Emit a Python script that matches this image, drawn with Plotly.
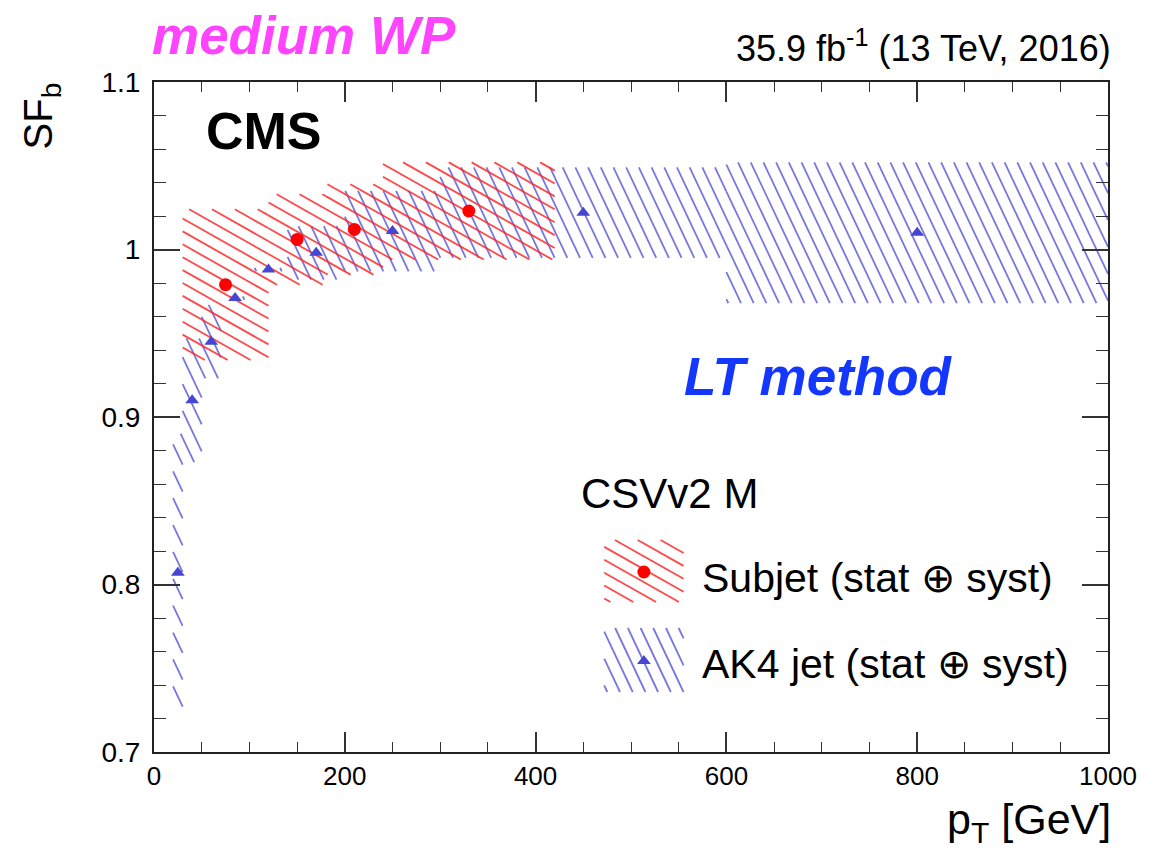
import math
import plotly.graph_objects as go

# ---------------- data ----------------
# Subjet (red), bins in pT [GeV]
sub_lo = [30, 120, 180, 240]
sub_hi = [120, 180, 240, 420]
sub_pt = [75, 150, 210, 330]
sub_sf = [0.979, 1.006, 1.012, 1.023]
sub_err = [0.045, 0.027, 0.027, 0.029]

# AK4 jet (blue)
ak4_lo = [20, 30, 50, 70, 100, 140, 200, 300, 600]
ak4_hi = [30, 50, 70, 100, 140, 200, 300, 600, 1000]
ak4_pt = [25, 40, 60, 85, 120, 170, 250, 450, 800]
ak4_sf = [0.807, 0.910, 0.945, 0.971, 0.988, 0.998, 1.011, 1.022, 1.010]
ak4_err = [0.083, 0.037, 0.022, 0.001, 0.001, 0.016, 0.024, 0.027, 0.042]

x_ticks = [0, 200, 400, 600, 800, 1000]
y_ticks = [0.7, 0.8, 0.9, 1.0, 1.1]
y_ticktext = ["0.7", "0.8", "0.9", "1", "1.1"]

# ---------------- layout geometry ----------------
W, H = 1149, 857
ML, MR, MT, MB = 154, 33, 82, 105
PW, PH = W - ML - MR, H - MT - MB
XR = (0, 1000)
YR = (0.7, 1.1)

RED_LINE = "rgba(255,40,40,0.85)"
BLUE_LINE = "rgba(85,85,215,0.8)"
RED_MK = "#ff0000"
BLUE_MK = "#4646d2"


def xpx(x):
    return ML + (x - XR[0]) / (XR[1] - XR[0]) * PW


def ypx(y):
    return MT + (YR[1] - y) / (YR[1] - YR[0]) * PH


def xdat(px):
    return XR[0] + (px - ML) / PW * (XR[1] - XR[0])


def ydat(py):
    return YR[1] - (py - MT) / PH * (YR[1] - YR[0])


def hatch_red_px(px1, px2, pyt, pyb, xs, ys, m=0.56, sp=12.9):
    cmin = pyt - m * px2
    cmax = pyb - m * px1
    for k in range(math.ceil(cmin / sp), math.floor(cmax / sp) + 1):
        c = k * sp
        xa = max(px1, (pyt - c) / m)
        xb = min(px2, (pyb - c) / m)
        if xb > xa:
            xs += [xdat(xa), xdat(xb), None]
            ys += [ydat(c + m * xa), ydat(c + m * xb), None]


def hatch_blue_px(px1, px2, pyt, pyb, xs, ys, s=2.1, sp=12.8):
    cmin = px1 - pyb / s
    cmax = px2 - pyt / s
    for k in range(math.ceil(cmin / sp), math.floor(cmax / sp) + 1):
        c = k * sp
        ya = max(pyt, (px1 - c) * s)
        yb = min(pyb, (px2 - c) * s)
        if yb > ya:
            xs += [xdat(c + ya / s), xdat(c + yb / s), None]
            ys += [ydat(ya), ydat(yb), None]


fig = go.Figure()

# blue hatch boxes
bx, by = [], []
for lo, hi, v, e in zip(ak4_lo, ak4_hi, ak4_sf, ak4_err):
    hatch_blue_px(xpx(lo), xpx(hi), ypx(v + e), ypx(v - e), bx, by)
# red hatch boxes
rx, ry = [], []
for lo, hi, v, e in zip(sub_lo, sub_hi, sub_sf, sub_err):
    hatch_red_px(xpx(lo), xpx(hi), ypx(v + e), ypx(v - e), rx, ry)

# legend hatch boxes (layout positions in pixels)
LEG_X1, LEG_X2 = 608, 688
LEG_R = (540, 602)
LEG_B = (628, 692)
lrx, lry, lbx, lby = [], [], [], []
hatch_red_px(LEG_X1, LEG_X2, LEG_R[0], LEG_R[1], lrx, lry)
hatch_blue_px(LEG_X1, LEG_X2, LEG_B[0], LEG_B[1], lbx, lby)

fig.add_trace(go.Scatter(x=bx + [None] + lbx, y=by + [None] + lby, mode="lines",
                         line=dict(color=BLUE_LINE, width=1.8), hoverinfo="skip",
                         showlegend=False))
fig.add_trace(go.Scatter(x=rx + [None] + lrx, y=ry + [None] + lry, mode="lines",
                         line=dict(color=RED_LINE, width=1.8), hoverinfo="skip",
                         showlegend=False))

# markers
fig.add_trace(go.Scatter(x=ak4_pt, y=ak4_sf, mode="markers",
                         marker=dict(symbol="triangle-up", size=12, color=BLUE_MK),
                         showlegend=False))
fig.add_trace(go.Scatter(x=sub_pt, y=sub_sf, mode="markers",
                         marker=dict(symbol="circle", size=13, color=RED_MK),
                         showlegend=False))
# legend markers
lmx = (LEG_X1 + LEG_X2) / 2
fig.add_trace(go.Scatter(x=[xdat(lmx)], y=[ydat(572)], mode="markers",
                         marker=dict(symbol="circle", size=13, color=RED_MK),
                         showlegend=False))
fig.add_trace(go.Scatter(x=[xdat(lmx)], y=[ydat(661)], mode="markers",
                         marker=dict(symbol="triangle-up", size=12, color=BLUE_MK),
                         showlegend=False))

FONT = "Liberation Sans, Arial, Helvetica, sans-serif"


def px2paper(px, py):
    return (px - ML) / PW, (MT + PH - py) / PH


def add_text(px, py, text, size, color="black", xanchor="left", yanchor="middle",
             bold=False, italic=False, angle=0):
    xp, yp = px2paper(px, py)
    t = text
    if bold:
        t = "<b>" + t + "</b>"
    if italic:
        t = "<i>" + t + "</i>"
    fig.add_annotation(x=xp, y=yp, xref="paper", yref="paper", text=t,
                       showarrow=False, xanchor=xanchor, yanchor=yanchor,
                       textangle=angle,
                       font=dict(family=FONT, size=size, color=color))


add_text(150, 35, "medium WP", 53, color="#ff44ff", bold=True, italic=True)
add_text(1121, 46, "35.9 fb<sup>-1</sup> (13 TeV, 2016)", 36, xanchor="right")
add_text(204, 131, "CMS", 52, bold=True)
add_text(686, 376, "LT method", 53, color="#1437ff", bold=True, italic=True)
add_text(583, 493, "CSVv2 M", 42)
add_text(705, 578, "Subjet (stat ⊕ syst)", 41)
add_text(705, 664, "AK4 jet (stat ⊕ syst)", 41)
add_text(40, 80, "SF<sub>b</sub>", 40, xanchor="center", yanchor="top", angle=-90)
add_text(1121, 822, "p<sub>T</sub> [GeV]", 43, xanchor="right")

fig.update_layout(
    width=W, height=H,
    margin=dict(l=ML, r=MR, t=MT, b=MB, pad=0),
    paper_bgcolor="white", plot_bgcolor="white",
    showlegend=False,
    font=dict(family=FONT, color="black"),
)
fig.update_xaxes(
    range=list(XR), tickvals=x_ticks, ticks="inside", ticklen=20, tickwidth=1.5,
    tickcolor="#333", showline=True, linewidth=2, linecolor="#222", mirror="ticks",
    showgrid=False, zeroline=False, tickfont=dict(size=26, family=FONT),
    minor=dict(ticks="inside", dtick=50, ticklen=10, tickwidth=1.3, tickcolor="#333",
               showgrid=False),
    ticklabelstandoff=0, ticklabeloverflow="allow",
)
fig.update_yaxes(
    range=list(YR), tickvals=y_ticks, ticktext=y_ticktext, ticks="inside", ticklen=26,
    tickwidth=1.5, tickcolor="#333", showline=True, linewidth=2, linecolor="#222",
    mirror="ticks", showgrid=False, zeroline=False, tickfont=dict(size=28, family=FONT),
    minor=dict(ticks="inside", dtick=0.02, ticklen=12, tickwidth=1.3, tickcolor="#333",
               showgrid=False),
    ticklabelstandoff=6,
)

fig.write_html("out.html")
